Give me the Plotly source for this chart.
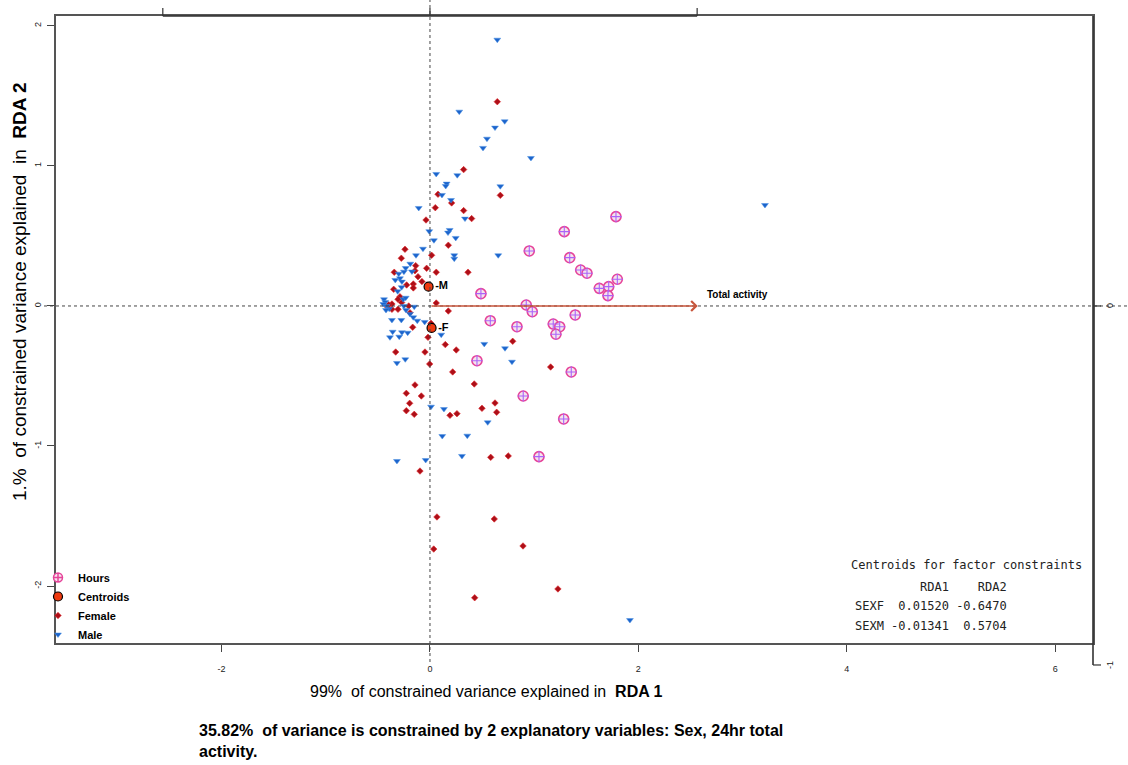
import plotly.graph_objects as go

# ---------------- data ----------------
hours_x = [1.785, 1.289, 0.953, 1.341, 1.446, 1.507, 1.798, 1.625, 1.715, 1.708, 0.489, 0.924,
           0.982, 1.394, 0.579, 0.835, 1.183, 1.245, 1.209, 0.451, 1.356, 0.895, 1.283, 1.046]
hours_y = [0.638, 0.531, 0.393, 0.345, 0.257, 0.234, 0.191, 0.126, 0.138, 0.074, 0.088, 0.007,
           -0.041, -0.064, -0.105, -0.148, -0.129, -0.148, -0.202, -0.391, -0.471, -0.643, -0.807, -1.076]

female_x = [0.646, 0.323, 0.675, 0.077, 0.208, 0.051, 0.323, 0.400, -0.038, 0.176, -0.240, -0.275,
            0.016, -0.137, -0.032, 0.060, 0.365, -0.144, -0.343, -0.115, -0.077, -0.160, -0.160,
            -0.224, -0.348, -0.288, -0.307, 0.060, -0.410, -0.365, -0.396, -0.365, -0.307, -0.204,
            -0.192, 0.176, -0.272, -0.166, 0.010, -0.019, 0.147, 0.252, 0.794, -0.329, -0.048,
            -0.003, 0.218, 1.158, 0.425, -0.144, -0.227, -0.083, -0.195, -0.227, -0.151, 0.192,
            0.259, 0.499, 0.624, 0.640, 0.583, 0.751, -0.096, 0.067, 0.617, 0.036, 0.893, 0.429, 1.228]
female_y = [1.459, 0.974, 0.790, 0.798, 0.736, 0.702, 0.681, 0.624, 0.614, 0.434, 0.405, 0.341,
            0.362, 0.288, 0.269, 0.241, 0.241, 0.252, 0.241, 0.209, 0.174, 0.157, 0.129,
            0.150, 0.119, 0.066, 0.048, 0.021, -0.005, 0.014, 0.009, -0.024, -0.024, 0.000,
            -0.048, -0.036, 0.024, -0.152, -0.124, -0.224, -0.276, -0.314, -0.252, -0.329, -0.329,
            -0.414, -0.471, -0.436, -0.557, -0.564, -0.624, -0.643, -0.695, -0.748, -0.774, -0.781,
            -0.769, -0.731, -0.693, -0.759, -1.081, -1.071, -1.179, -1.507, -1.521, -1.736, -1.714, -2.084, -2.021]

male_x = [0.646, 0.281, 0.717, 0.624, 0.547, 0.509, 0.969, 0.060, 0.262, 0.160, 0.151, 0.675,
          0.115, 0.202, -0.108, 0.336, 0.189, 0.173, -0.007, 0.247, 0.038, -0.067, -0.134,
          0.233, 0.233, 0.655, -0.189, -0.233, -0.173, -0.250, -0.300, -0.288, -0.333, -0.269,
          -0.272, -0.310, -0.256, -0.233, -0.441, -0.429, -0.448, -0.416, -0.391, -0.422, -0.250,
          -0.151, -0.230, -0.192, -0.365, -0.275, -0.160, -0.122, -0.051, -0.358, -0.384, -0.295,
          -0.269, -0.214, 0.108, 0.521, 0.720, -0.237, -0.317, 0.787, 0.010, 0.134, 0.554, 0.118,
          0.358, 0.307, -0.041, -0.317, 1.919, 3.215]
male_y = [1.902, 1.388, 1.319, 1.274, 1.195, 1.129, 1.057, 0.943, 0.934, 0.874, 0.857, 0.855,
          0.793, 0.757, 0.700, 0.624, 0.543, 0.524, 0.534, 0.486, 0.469, 0.409, 0.362,
          0.362, 0.338, 0.362, 0.302, 0.271, 0.246, 0.245, 0.231, 0.198, 0.186, 0.174,
          0.134, 0.105, 0.048, 0.059, 0.048, 0.029, 0.014, 0.000, -0.019, -0.029, 0.000,
          -0.005, -0.029, -0.057, -0.100, -0.100, -0.081, -0.105, -0.114, -0.184, -0.224, -0.219,
          -0.188, -0.191, -0.205, -0.271, -0.302, -0.381, -0.407, -0.398, -0.719, -0.736, -0.831, -0.929,
          -0.926, -1.071, -1.100, -1.107, -2.243, 0.721]

centroid_x = [-0.0134, 0.0152]
centroid_y = [0.138, -0.157]
centroid_labels = ["-M", "-F"]

arrow_x = [2.57]
arrow_y = [0.0]
arrow_labels = ["Total activity"]
arrow_scale = 2.564  # ratio between main and biplot (arrow) axes

x_ticks = [-2, 0, 2, 4, 6]
y_ticks = [-2, -1, 0, 1, 2]
x_range = [-3.589, 6.363]
y_range = [-2.407, 2.071]

table_title = "Centroids for factor constraints"
table_header = ["", "RDA1", "RDA2"]
table_rows = [["SEXF", "0.01520", "-0.6470"], ["SEXM", "-0.01341", "0.5704"]]

# ---------------- layout geometry ----------------
W, H = 1128, 765
ML, MR, MT, MB = 56, 35, 16, 122
PW, PH = W - ML - MR, H - MT - MB


def px_x(p):
    return (p - ML) / PW


def px_y(p):
    return (H - MB - p) / PH


def yd_to_paper(v):
    return (v - y_range[0]) / (y_range[1] - y_range[0])


FONT = "Liberation Sans, Arial, sans-serif"
MONO = "DejaVu Sans Mono, Liberation Mono, monospace"

HOURS_FILL = "#f4e4ec"
HOURS_RING = "#e6449a"

fig = go.Figure()

fig.add_trace(go.Scatter(
    x=female_x, y=female_y, mode="markers", name="<b>Female</b>", legendrank=3,
    marker=dict(symbol="diamond", size=5, color="#ad0f18", line=dict(color="#e22a2e", width=0.6))))
fig.add_trace(go.Scatter(
    x=male_x, y=male_y, mode="markers", name="<b>Male</b>", legendrank=4,
    marker=dict(symbol="triangle-down", size=6, color="#1c64cc", line=dict(color="#4a90e2", width=0.5))))
fig.add_trace(go.Scatter(
    x=hours_x, y=hours_y, mode="markers", showlegend=False,
    marker=dict(symbol="circle", size=10, color=HOURS_FILL, line=dict(color=HOURS_RING, width=1.6))))
fig.add_trace(go.Scatter(
    x=hours_x, y=hours_y, mode="markers", showlegend=False, hoverinfo="skip",
    marker=dict(symbol="cross-thin-open", size=8, line=dict(color="#2a2a2a", width=1.1))))
# legend key for the Hours layer (ring + cross)
fig.add_trace(go.Scatter(
    x=[None], y=[None], mode="markers", name="<b>Hours</b>", legendrank=1,
    marker=dict(symbol="circle-cross", size=9, color=HOURS_FILL, line=dict(color=HOURS_RING, width=1.5))))
fig.add_trace(go.Scatter(
    x=centroid_x, y=centroid_y, mode="markers+text", name="<b>Centroids</b>", legendrank=2,
    text=["<b>%s</b>" % t for t in centroid_labels], textposition="middle right",
    textfont=dict(family=FONT, size=11, color="black"),
    marker=dict(symbol="circle", size=9, color="#ee3a10", line=dict(color="black", width=1.2))))

# dotted zero lines
fig.add_shape(type="line", xref="x", yref="paper", x0=0, x1=0, y0=px_y(662), y1=px_y(0),
              line=dict(color="#444444", width=1, dash="dot"))
fig.add_shape(type="line", xref="paper", yref="y", x0=px_x(44), x1=px_x(W), y0=0, y1=0,
              line=dict(color="#444444", width=1, dash="dot"))

# top (biplot) axis: ticks at -1, 0, 1 of arrow scale
top_ticks = [-1, 0, 1]
fig.add_shape(type="line", xref="x", yref="paper", x0=top_ticks[0] * arrow_scale,
              x1=top_ticks[-1] * arrow_scale, y0=1, y1=1, line=dict(color="#333333", width=1.6))
for t in top_ticks:
    fig.add_shape(type="line", xref="x", yref="paper", x0=t * arrow_scale, x1=t * arrow_scale,
                  y0=1, y1=1 + 8 / PH, line=dict(color="#333333", width=1.2))

# right (biplot) axis: ticks at 0 and -1 of arrow scale
r_low = yd_to_paper(-1 * arrow_scale)
fig.add_shape(type="line", xref="paper", yref="paper", x0=1, x1=1, y0=r_low, y1=1,
              line=dict(color="#333333", width=1.6))
for t in [-1, 0]:
    yp = yd_to_paper(t * arrow_scale)
    fig.add_shape(type="line", xref="paper", yref="paper", x0=1, x1=1 + 8 / PW, y0=yp, y1=yp,
                  line=dict(color="#333333", width=1.2))
    fig.add_annotation(xref="paper", yref="paper", x=1 + 17 / PW, y=yp, text=str(t),
                       textangle=-90, showarrow=False, xanchor="center", yanchor="middle",
                       font=dict(family=FONT, size=9, color="#222222"))

# arrow
for ax_, ay_, lab in zip(arrow_x, arrow_y, arrow_labels):
    fig.add_annotation(x=ax_, y=ay_, ax=0, ay=0, xref="x", yref="y", axref="x", ayref="y",
                       showarrow=True, arrowhead=4, arrowsize=1.3, arrowwidth=1.5,
                       arrowcolor="#c8563c", text="")
    fig.add_annotation(x=ax_ * 1.15, y=ay_, xref="x", yref="y", text="<b>%s</b>" % lab,
                       showarrow=False, yshift=11, font=dict(family=FONT, size=10, color="black"))

# centroid table
nb = "\u00a0"
fig.add_annotation(xref="paper", yref="paper", x=px_x(849), y=px_y(565), text=table_title,
                   showarrow=False, xanchor="left", yanchor="middle",
                   font=dict(family=MONO, size=12, color="#222222"))
hdr = nb * 9 + table_header[1] + nb * 4 + table_header[2]
fig.add_annotation(xref="paper", yref="paper", x=px_x(853), y=px_y(587), text=hdr,
                   showarrow=False, xanchor="left", yanchor="middle",
                   font=dict(family=MONO, size=12, color="#222222"))
for row, yp in zip(table_rows, [606, 626]):
    line = row[0] + row[1].rjust(9).replace(" ", nb) + row[2].rjust(8).replace(" ", nb)
    fig.add_annotation(xref="paper", yref="paper", x=px_x(853), y=px_y(yp), text=line,
                       showarrow=False, xanchor="left", yanchor="middle",
                       font=dict(family=MONO, size=12, color="#222222"))

# axis titles
fig.add_annotation(xref="paper", yref="paper", x=px_x(486), y=px_y(691),
                   text="99%" + nb * 2 + "of constrained variance explained in" + nb * 2 + "<b>RDA 1</b>",
                   showarrow=False, xanchor="center", yanchor="middle",
                   font=dict(family=FONT, size=16, color="black"))
fig.add_annotation(xref="paper", yref="paper", x=px_x(19), y=px_y(292),
                   text="1.%" + nb * 2 + "of constrained variance explained" + nb * 2 + "in" + nb * 2 + "<b>RDA 2</b>",
                   showarrow=False, xanchor="center", yanchor="middle", textangle=-90,
                   font=dict(family=FONT, size=19, color="black"))

# caption
fig.add_annotation(xref="paper", yref="paper", x=px_x(197), y=px_y(720),
                   text="<b>35.82%" + nb * 2 + "of variance is constrained by 2 explanatory variables: Sex, 24hr total"
                        "<br>activity.</b>",
                   showarrow=False, xanchor="left", yanchor="top", align="left",
                   font=dict(family=FONT, size=16, color="black"))

fig.update_layout(
    width=W, height=H, autosize=False,
    margin=dict(l=ML, r=MR, t=MT, b=MB, pad=0),
    paper_bgcolor="white", plot_bgcolor="white",
    showlegend=True,
    legend=dict(x=px_x(38), y=px_y(563), xanchor="left", yanchor="top",
                bgcolor="rgba(0,0,0,0)", font=dict(family=FONT, size=11, color="black"),
                itemsizing="trace", tracegroupgap=0),
    xaxis=dict(range=x_range, tickvals=x_ticks, ticktext=[str(v) for v in x_ticks],
               showgrid=False, zeroline=False, showline=True, mirror=True,
               linecolor="#555555", linewidth=1.5, ticks="outside", ticklen=7,
               tickcolor="#444444", tickwidth=1, ticklabelstandoff=9,
               tickfont=dict(family=FONT, size=9, color="#222222")),
    yaxis=dict(range=y_range, tickvals=y_ticks, ticktext=[str(v) for v in y_ticks],
               showgrid=False, zeroline=False, showline=True, mirror=True,
               linecolor="#555555", linewidth=1.5, ticks="outside", ticklen=7,
               tickcolor="#444444", tickwidth=1, tickangle=-90, ticklabelstandoff=3,
               tickfont=dict(family=FONT, size=9, color="#222222")),
)

fig.write_html("out.html")
